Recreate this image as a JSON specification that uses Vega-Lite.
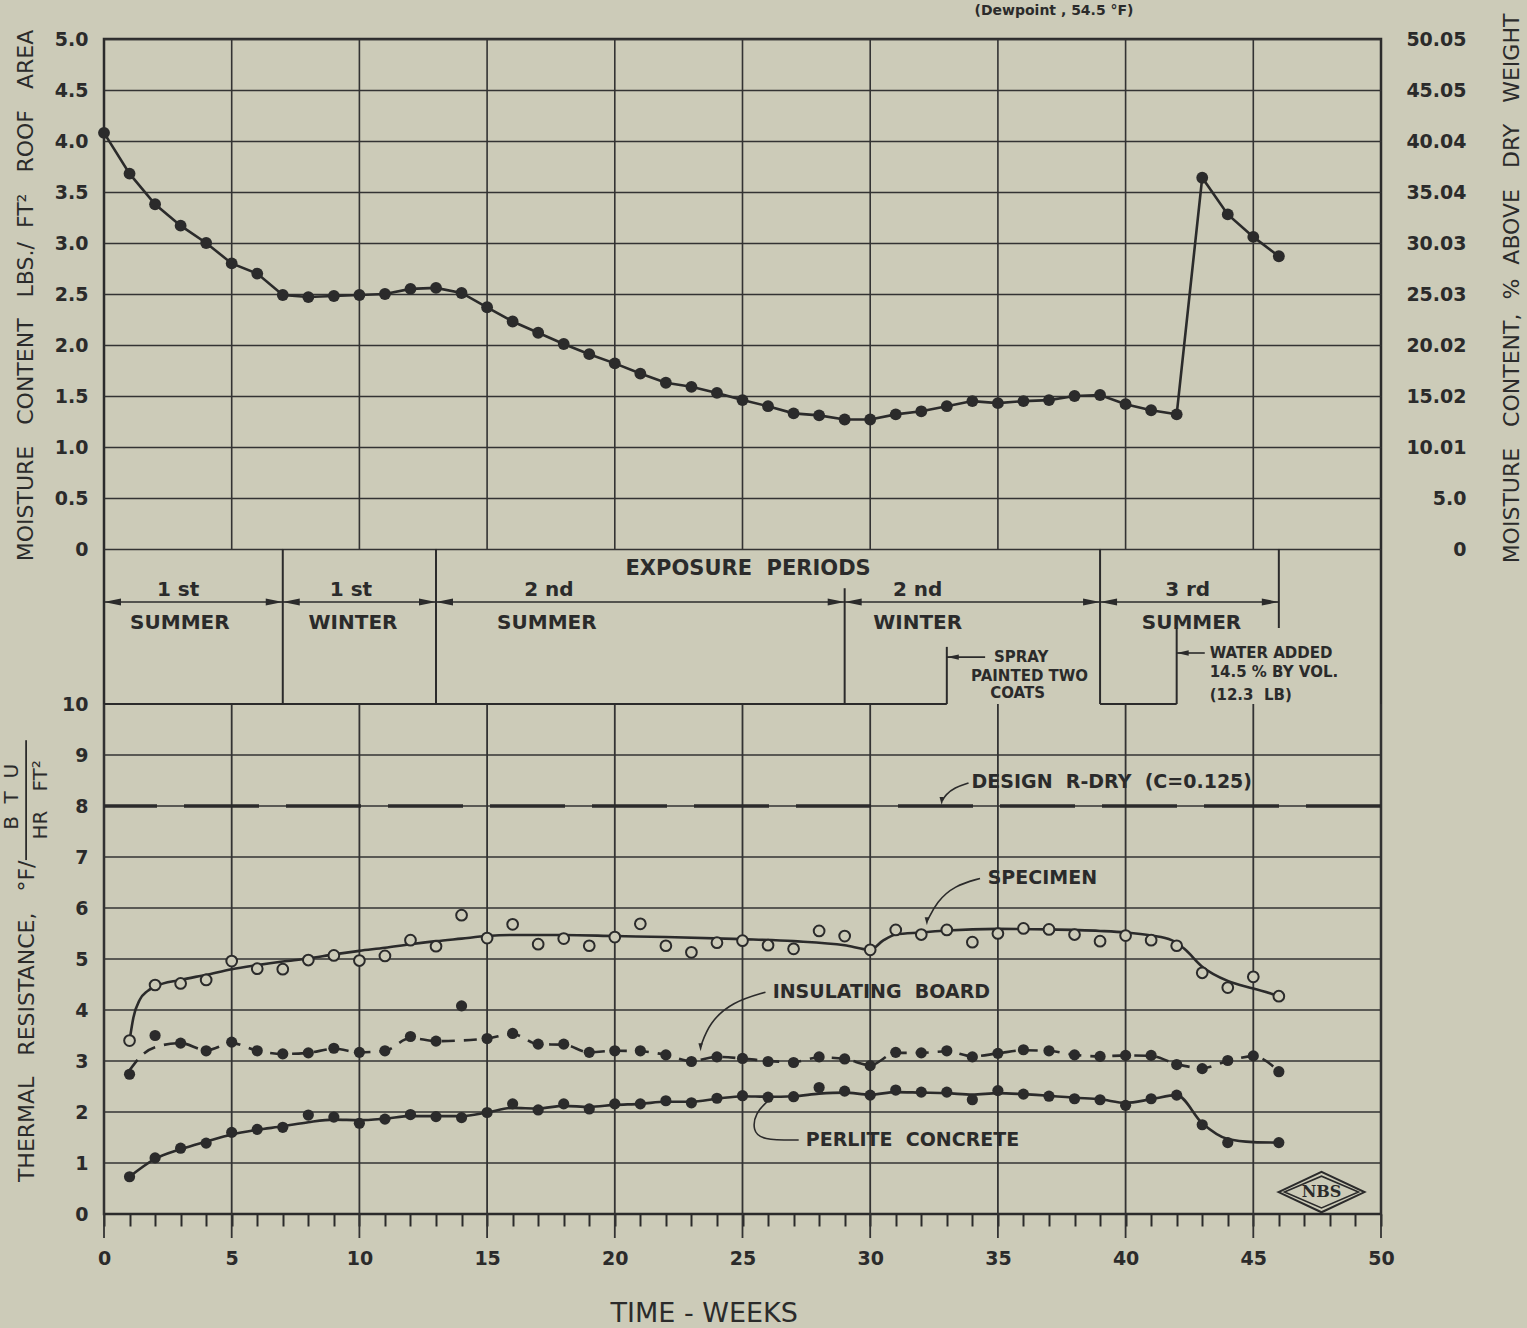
{
  "$schema": "https://vega.github.io/schema/vega-lite/v6.json",
  "width": 1277,
  "height": 1175,
  "autosize": {"type": "none"},
  "padding": {"left": 104, "top": 39, "right": 146, "bottom": 114},
  "background": "#cccbb8",
  "config": {
    "view": {"stroke": "#2b2b2b", "strokeWidth": 2.5},
    "axis": {
      "labelFont": "DejaVu Sans", "labelFontWeight": "bold", "labelFontSize": 19, "labelColor": "#2b2b2b",
      "titleFont": "DejaVu Sans", "titleFontWeight": "normal", "titleColor": "#2b2b2b",
      "gridColor": "#333333", "gridWidth": 1.6, "gridOpacity": 1, "tickColor": "#2b2b2b",
      "domain": false, "labelOverlap": false, "labelFlush": false
    },
    "text": {"font": "DejaVu Sans", "color": "#2b2b2b"}
  },
  "datasets": {
    "moisture": [
      {"week": 0, "lbs": 4.08}, {"week": 1, "lbs": 3.68}, {"week": 2, "lbs": 3.38}, {"week": 3, "lbs": 3.17},
      {"week": 4, "lbs": 3.0}, {"week": 5, "lbs": 2.8}, {"week": 6, "lbs": 2.7}, {"week": 7, "lbs": 2.49},
      {"week": 8, "lbs": 2.47}, {"week": 9, "lbs": 2.48}, {"week": 10, "lbs": 2.49}, {"week": 11, "lbs": 2.5},
      {"week": 12, "lbs": 2.55}, {"week": 13, "lbs": 2.56}, {"week": 14, "lbs": 2.51}, {"week": 15, "lbs": 2.37},
      {"week": 16, "lbs": 2.23}, {"week": 17, "lbs": 2.12}, {"week": 18, "lbs": 2.01}, {"week": 19, "lbs": 1.91},
      {"week": 20, "lbs": 1.82}, {"week": 21, "lbs": 1.72}, {"week": 22, "lbs": 1.63}, {"week": 23, "lbs": 1.59},
      {"week": 24, "lbs": 1.53}, {"week": 25, "lbs": 1.46}, {"week": 26, "lbs": 1.4}, {"week": 27, "lbs": 1.33},
      {"week": 28, "lbs": 1.31}, {"week": 29, "lbs": 1.27}, {"week": 30, "lbs": 1.27}, {"week": 31, "lbs": 1.32},
      {"week": 32, "lbs": 1.35}, {"week": 33, "lbs": 1.4}, {"week": 34, "lbs": 1.45}, {"week": 35, "lbs": 1.43},
      {"week": 36, "lbs": 1.45}, {"week": 37, "lbs": 1.46}, {"week": 38, "lbs": 1.5}, {"week": 39, "lbs": 1.51},
      {"week": 40, "lbs": 1.42}, {"week": 41, "lbs": 1.36}, {"week": 42, "lbs": 1.32}, {"week": 43, "lbs": 3.64},
      {"week": 44, "lbs": 3.28}, {"week": 45, "lbs": 3.06}, {"week": 46, "lbs": 2.87}
    ],
    "obs": [
      {"week": 1, "specimen": 3.4, "board": 2.74, "perlite": 0.73},
      {"week": 2, "specimen": 4.49, "board": 3.5, "perlite": 1.1},
      {"week": 3, "specimen": 4.52, "board": 3.35, "perlite": 1.29},
      {"week": 4, "specimen": 4.59, "board": 3.2, "perlite": 1.39},
      {"week": 5, "specimen": 4.96, "board": 3.37, "perlite": 1.6},
      {"week": 6, "specimen": 4.81, "board": 3.2, "perlite": 1.66},
      {"week": 7, "specimen": 4.8, "board": 3.14, "perlite": 1.7},
      {"week": 8, "specimen": 4.98, "board": 3.16, "perlite": 1.94},
      {"week": 9, "specimen": 5.07, "board": 3.25, "perlite": 1.9},
      {"week": 10, "specimen": 4.97, "board": 3.17, "perlite": 1.78},
      {"week": 11, "specimen": 5.06, "board": 3.2, "perlite": 1.86},
      {"week": 12, "specimen": 5.37, "board": 3.48, "perlite": 1.95},
      {"week": 13, "specimen": 5.25, "board": 3.39, "perlite": 1.91},
      {"week": 14, "specimen": 5.86, "board": 4.08, "perlite": 1.89},
      {"week": 15, "specimen": 5.41, "board": 3.44, "perlite": 1.99},
      {"week": 16, "specimen": 5.68, "board": 3.54, "perlite": 2.16},
      {"week": 17, "specimen": 5.29, "board": 3.33, "perlite": 2.04},
      {"week": 18, "specimen": 5.4, "board": 3.33, "perlite": 2.16},
      {"week": 19, "specimen": 5.26, "board": 3.17, "perlite": 2.06},
      {"week": 20, "specimen": 5.43, "board": 3.2, "perlite": 2.16},
      {"week": 21, "specimen": 5.69, "board": 3.2, "perlite": 2.16},
      {"week": 22, "specimen": 5.26, "board": 3.12, "perlite": 2.22},
      {"week": 23, "specimen": 5.13, "board": 2.99, "perlite": 2.18},
      {"week": 24, "specimen": 5.32, "board": 3.08, "perlite": 2.27},
      {"week": 25, "specimen": 5.36, "board": 3.05, "perlite": 2.32},
      {"week": 26, "specimen": 5.27, "board": 2.99, "perlite": 2.29},
      {"week": 27, "specimen": 5.2, "board": 2.97, "perlite": 2.3},
      {"week": 28, "specimen": 5.55, "board": 3.08, "perlite": 2.48},
      {"week": 29, "specimen": 5.45, "board": 3.04, "perlite": 2.41},
      {"week": 30, "specimen": 5.18, "board": 2.91, "perlite": 2.33},
      {"week": 31, "specimen": 5.57, "board": 3.17, "perlite": 2.43},
      {"week": 32, "specimen": 5.48, "board": 3.16, "perlite": 2.39},
      {"week": 33, "specimen": 5.57, "board": 3.2, "perlite": 2.39},
      {"week": 34, "specimen": 5.33, "board": 3.08, "perlite": 2.24},
      {"week": 35, "specimen": 5.5, "board": 3.15, "perlite": 2.42},
      {"week": 36, "specimen": 5.6, "board": 3.22, "perlite": 2.35},
      {"week": 37, "specimen": 5.58, "board": 3.2, "perlite": 2.31},
      {"week": 38, "specimen": 5.48, "board": 3.12, "perlite": 2.26},
      {"week": 39, "specimen": 5.35, "board": 3.09, "perlite": 2.24},
      {"week": 40, "specimen": 5.46, "board": 3.11, "perlite": 2.13},
      {"week": 41, "specimen": 5.37, "board": 3.11, "perlite": 2.26},
      {"week": 42, "specimen": 5.26, "board": 2.93, "perlite": 2.33},
      {"week": 43, "specimen": 4.73, "board": 2.85, "perlite": 1.75},
      {"week": 44, "specimen": 4.44, "board": 3.01, "perlite": 1.4},
      {"week": 45, "specimen": 4.65, "board": 3.1, "perlite": null},
      {"week": 46, "specimen": 4.27, "board": 2.79, "perlite": 1.4}
    ],
    "fits": [
      {"s": "specimen", "week": 1, "r": 3.4}, {"s": "specimen", "week": 1.15, "r": 3.85}, {"s": "specimen", "week": 1.4, "r": 4.2},
      {"s": "specimen", "week": 1.7, "r": 4.37}, {"s": "specimen", "week": 2, "r": 4.46}, {"s": "specimen", "week": 3, "r": 4.59},
      {"s": "specimen", "week": 4, "r": 4.69}, {"s": "specimen", "week": 5, "r": 4.8}, {"s": "specimen", "week": 6, "r": 4.88},
      {"s": "specimen", "week": 7, "r": 4.95}, {"s": "specimen", "week": 8, "r": 5.01}, {"s": "specimen", "week": 9, "r": 5.09},
      {"s": "specimen", "week": 10, "r": 5.16}, {"s": "specimen", "week": 11, "r": 5.22}, {"s": "specimen", "week": 12, "r": 5.29},
      {"s": "specimen", "week": 13, "r": 5.35}, {"s": "specimen", "week": 14, "r": 5.4}, {"s": "specimen", "week": 15, "r": 5.45},
      {"s": "specimen", "week": 16, "r": 5.47}, {"s": "specimen", "week": 18, "r": 5.47}, {"s": "specimen", "week": 20, "r": 5.45},
      {"s": "specimen", "week": 22, "r": 5.43}, {"s": "specimen", "week": 25, "r": 5.39}, {"s": "specimen", "week": 27, "r": 5.35},
      {"s": "specimen", "week": 29, "r": 5.27}, {"s": "specimen", "week": 30, "r": 5.18}, {"s": "specimen", "week": 30.5, "r": 5.36},
      {"s": "specimen", "week": 31, "r": 5.48}, {"s": "specimen", "week": 32, "r": 5.52}, {"s": "specimen", "week": 33, "r": 5.56},
      {"s": "specimen", "week": 35, "r": 5.59}, {"s": "specimen", "week": 37, "r": 5.58}, {"s": "specimen", "week": 39, "r": 5.55},
      {"s": "specimen", "week": 40, "r": 5.52}, {"s": "specimen", "week": 41, "r": 5.46}, {"s": "specimen", "week": 41.8, "r": 5.37},
      {"s": "specimen", "week": 42.3, "r": 5.2}, {"s": "specimen", "week": 43, "r": 4.85}, {"s": "specimen", "week": 44, "r": 4.57},
      {"s": "specimen", "week": 45, "r": 4.42}, {"s": "specimen", "week": 46, "r": 4.28},
      {"s": "board", "week": 1, "r": 2.82}, {"s": "board", "week": 1.5, "r": 3.12}, {"s": "board", "week": 2, "r": 3.27},
      {"s": "board", "week": 3, "r": 3.35}, {"s": "board", "week": 4, "r": 3.21}, {"s": "board", "week": 5, "r": 3.35},
      {"s": "board", "week": 6, "r": 3.2}, {"s": "board", "week": 7, "r": 3.14}, {"s": "board", "week": 8, "r": 3.16},
      {"s": "board", "week": 9, "r": 3.24}, {"s": "board", "week": 10, "r": 3.17}, {"s": "board", "week": 11, "r": 3.2},
      {"s": "board", "week": 12, "r": 3.45}, {"s": "board", "week": 13, "r": 3.39}, {"s": "board", "week": 15, "r": 3.44},
      {"s": "board", "week": 16, "r": 3.53}, {"s": "board", "week": 17, "r": 3.33}, {"s": "board", "week": 18, "r": 3.32},
      {"s": "board", "week": 19, "r": 3.17}, {"s": "board", "week": 20, "r": 3.2}, {"s": "board", "week": 21, "r": 3.19},
      {"s": "board", "week": 22, "r": 3.12}, {"s": "board", "week": 23, "r": 3.0}, {"s": "board", "week": 24, "r": 3.08},
      {"s": "board", "week": 25, "r": 3.05}, {"s": "board", "week": 26, "r": 3.0}, {"s": "board", "week": 27, "r": 2.98},
      {"s": "board", "week": 28, "r": 3.07}, {"s": "board", "week": 29, "r": 3.04}, {"s": "board", "week": 30, "r": 2.92},
      {"s": "board", "week": 31, "r": 3.16}, {"s": "board", "week": 32, "r": 3.16}, {"s": "board", "week": 33, "r": 3.19},
      {"s": "board", "week": 34, "r": 3.09}, {"s": "board", "week": 35, "r": 3.15}, {"s": "board", "week": 36, "r": 3.21},
      {"s": "board", "week": 37, "r": 3.2}, {"s": "board", "week": 38, "r": 3.12}, {"s": "board", "week": 39, "r": 3.09},
      {"s": "board", "week": 40, "r": 3.11}, {"s": "board", "week": 41, "r": 3.1}, {"s": "board", "week": 42, "r": 2.94},
      {"s": "board", "week": 43, "r": 2.86}, {"s": "board", "week": 44, "r": 3.0}, {"s": "board", "week": 45, "r": 3.09},
      {"s": "board", "week": 46, "r": 2.8},
      {"s": "perlite", "week": 1, "r": 0.73}, {"s": "perlite", "week": 2, "r": 1.08}, {"s": "perlite", "week": 3, "r": 1.27},
      {"s": "perlite", "week": 4, "r": 1.42}, {"s": "perlite", "week": 5, "r": 1.56}, {"s": "perlite", "week": 6, "r": 1.65},
      {"s": "perlite", "week": 7, "r": 1.72}, {"s": "perlite", "week": 8, "r": 1.8}, {"s": "perlite", "week": 9, "r": 1.85},
      {"s": "perlite", "week": 10, "r": 1.84}, {"s": "perlite", "week": 11, "r": 1.87}, {"s": "perlite", "week": 12, "r": 1.92},
      {"s": "perlite", "week": 13, "r": 1.92}, {"s": "perlite", "week": 14, "r": 1.92}, {"s": "perlite", "week": 15, "r": 1.99},
      {"s": "perlite", "week": 16, "r": 2.08}, {"s": "perlite", "week": 17, "r": 2.07}, {"s": "perlite", "week": 18, "r": 2.12},
      {"s": "perlite", "week": 19, "r": 2.1}, {"s": "perlite", "week": 20, "r": 2.14}, {"s": "perlite", "week": 21, "r": 2.16},
      {"s": "perlite", "week": 22, "r": 2.2}, {"s": "perlite", "week": 23, "r": 2.2}, {"s": "perlite", "week": 24, "r": 2.26},
      {"s": "perlite", "week": 25, "r": 2.31}, {"s": "perlite", "week": 26, "r": 2.3}, {"s": "perlite", "week": 27, "r": 2.31},
      {"s": "perlite", "week": 28, "r": 2.36}, {"s": "perlite", "week": 29, "r": 2.38}, {"s": "perlite", "week": 30, "r": 2.34},
      {"s": "perlite", "week": 31, "r": 2.39}, {"s": "perlite", "week": 32, "r": 2.38}, {"s": "perlite", "week": 33, "r": 2.37},
      {"s": "perlite", "week": 34, "r": 2.34}, {"s": "perlite", "week": 35, "r": 2.37}, {"s": "perlite", "week": 36, "r": 2.35},
      {"s": "perlite", "week": 37, "r": 2.32}, {"s": "perlite", "week": 38, "r": 2.28}, {"s": "perlite", "week": 39, "r": 2.25},
      {"s": "perlite", "week": 40, "r": 2.18}, {"s": "perlite", "week": 41, "r": 2.25}, {"s": "perlite", "week": 42, "r": 2.33},
      {"s": "perlite", "week": 43, "r": 1.78}, {"s": "perlite", "week": 44, "r": 1.47}, {"s": "perlite", "week": 45, "r": 1.41},
      {"s": "perlite", "week": 46, "r": 1.4}
    ],
    "leaders": [
      {"id": "design", "o": 1, "week": 33.85, "lvl": 8.45}, {"id": "design", "o": 2, "week": 33.3, "lvl": 8.36},
      {"id": "design", "o": 3, "week": 32.95, "lvl": 8.22}, {"id": "design", "o": 4, "week": 32.82, "lvl": 8.1},
      {"id": "specimen", "o": 1, "week": 34.3, "lvl": 6.58}, {"id": "specimen", "o": 2, "week": 33.3, "lvl": 6.44},
      {"id": "specimen", "o": 3, "week": 32.6, "lvl": 6.12}, {"id": "specimen", "o": 4, "week": 32.25, "lvl": 5.76},
      {"id": "board", "o": 1, "week": 25.9, "lvl": 4.35}, {"id": "board", "o": 2, "week": 24.6, "lvl": 4.16},
      {"id": "board", "o": 3, "week": 23.7, "lvl": 3.75}, {"id": "board", "o": 4, "week": 23.36, "lvl": 3.28},
      {"id": "perlite", "o": 1, "week": 27.2, "lvl": 1.45}, {"id": "perlite", "o": 2, "week": 25.75, "lvl": 1.45},
      {"id": "perlite", "o": 3, "week": 25.4, "lvl": 1.64}, {"id": "perlite", "o": 4, "week": 25.5, "lvl": 1.98},
      {"id": "perlite", "o": 5, "week": 26.0, "lvl": 2.22}
    ]
  },
  "layer": [
    {
      "layer": [
        {
          "data": {"values": [{"week": 5}, {"week": 10}, {"week": 15}, {"week": 20}, {"week": 25}, {"week": 30}, {"week": 35}, {"week": 40}, {"week": 45}]},
          "mark": {"type": "rule", "color": "#333333", "strokeWidth": 1.6},
          "encoding": {
            "x": {"field": "week", "type": "quantitative", "scale": {"domain": [0, 50], "nice": false, "zero": false}, "axis": null},
            "y": {"datum": 0, "type": "quantitative", "scale": {"domain": [0, 5], "range": [510, 0], "nice": false, "zero": false}, "axis": null},
            "y2": {"datum": 5}
          }
        },
        {
          "data": {"name": "moisture"},
          "mark": {"type": "line", "color": "#2b2b2b", "strokeWidth": 2.6},
          "encoding": {
            "x": {"field": "week", "type": "quantitative", "scale": {"domain": [0, 50], "nice": false, "zero": false}, "axis": null},
            "y": {"field": "lbs", "type": "quantitative", "scale": {"domain": [0, 5], "range": [510, 0], "nice": false, "zero": false},
              "axis": {"orient": "left", "values": [0, 0.5, 1, 1.5, 2, 2.5, 3, 3.5, 4, 4.5, 5],
                "labelExpr": "datum.value == 0 ? '0' : format(datum.value, '.1f')",
                "ticks": false, "labelPadding": 16, "grid": true,
                "title": "MOISTURE\u00a0\u00a0\u00a0CONTENT\u00a0\u00a0\u00a0LBS./\u00a0\u00a0FT\u00b2\u00a0\u00a0\u00a0ROOF\u00a0\u00a0\u00a0AREA",
                "titleFontSize": 22, "titleAngle": 270, "titleX": -79, "titleY": 256, "titleAlign": "center", "titleBaseline": "middle"}}
          }
        },
        {
          "data": {"name": "moisture"},
          "mark": {"type": "point", "shape": "circle", "filled": true, "color": "#2b2b2b", "size": 140, "opacity": 1},
          "encoding": {
            "x": {"field": "week", "type": "quantitative", "scale": {"domain": [0, 50], "nice": false, "zero": false}, "axis": null},
            "y": {"field": "lbs", "type": "quantitative", "scale": {"domain": [0, 5], "range": [510, 0], "nice": false, "zero": false},
              "axis": {"orient": "right", "values": [0, 0.5, 1, 1.5, 2, 2.5, 3, 3.5, 4, 4.5, 5],
                "labelExpr": "['0','5.0','10.01','15.02','20.02','25.03','30.03','35.04','40.04','45.05','50.05'][round(datum.value*2)]",
                "ticks": false, "labelPadding": 85, "labelAlign": "right", "grid": false,
                "title": "MOISTURE\u00a0\u00a0\u00a0CONTENT,\u00a0\u00a0%\u00a0\u00a0ABOVE\u00a0\u00a0\u00a0DRY\u00a0\u00a0\u00a0WEIGHT",
                "titleFontSize": 22, "titleAngle": 270, "titleX": 130, "titleY": 249, "titleAlign": "center", "titleBaseline": "middle"}}
          }
        },
        {
          "data": {"values": [{}]},
          "mark": {"type": "text", "text": "(Dewpoint , 54.5 \u00b0F)", "align": "right", "baseline": "alphabetic", "fontSize": 14, "fontWeight": "bold"},
          "encoding": {
            "x": {"datum": 40.31, "type": "quantitative", "scale": {"domain": [0, 50], "nice": false, "zero": false}, "axis": null},
            "y": {"datum": 5.235, "type": "quantitative", "scale": {"domain": [0, 5], "range": [510, 0], "nice": false, "zero": false}, "axis": null}
          }
        }
      ],
      "resolve": {"axis": {"y": "independent"}}
    },
    {
      "layer": [
        {
          "data": {"values": [{"r": 1}, {"r": 2}, {"r": 3}, {"r": 4}, {"r": 5}, {"r": 6}, {"r": 7}, {"r": 8}, {"r": 9}]},
          "mark": {"type": "rule", "color": "#333333", "strokeWidth": 1.6},
          "encoding": {
            "y": {"field": "r", "type": "quantitative", "scale": {"domain": [0, 10], "range": [1175, 665], "nice": false, "zero": false}, "axis": null}
          }
        },
        {
          "data": {"values": [{"week": 0}, {"week": 5}, {"week": 10}, {"week": 15}, {"week": 20}, {"week": 25}, {"week": 30}, {"week": 35}, {"week": 40}, {"week": 45}, {"week": 50}]},
          "mark": {"type": "rule", "color": "#333333", "strokeWidth": 1.8},
          "encoding": {
            "x": {"field": "week", "type": "quantitative", "scale": {"domain": [0, 50], "nice": false, "zero": false}, "axis": null},
            "y": {"datum": -0.47, "type": "quantitative", "scale": {"domain": [0, 10], "range": [1175, 665], "nice": false, "zero": false}, "axis": null},
            "y2": {"datum": 10}
          }
        },
        {
          "data": {"values": [{}]},
          "mark": {"type": "rule", "color": "#2b2b2b", "strokeWidth": 2},
          "encoding": {
            "x": {"datum": 0, "type": "quantitative", "scale": {"domain": [0, 50], "nice": false, "zero": false}, "axis": null},
            "x2": {"datum": 33},
            "y": {"datum": 10, "type": "quantitative", "scale": {"domain": [0, 10], "range": [1175, 665], "nice": false, "zero": false}, "axis": null}
          }
        },
        {
          "data": {"values": [{}]},
          "mark": {"type": "rule", "color": "#2b2b2b", "strokeWidth": 2},
          "encoding": {
            "x": {"datum": 39, "type": "quantitative", "scale": {"domain": [0, 50], "nice": false, "zero": false}, "axis": null},
            "x2": {"datum": 42},
            "y": {"datum": 10, "type": "quantitative", "scale": {"domain": [0, 10], "range": [1175, 665], "nice": false, "zero": false}, "axis": null}
          }
        },
        {
          "data": {"values": [{"week": 7}, {"week": 13}, {"week": 39}]},
          "mark": {"type": "rule", "color": "#2b2b2b", "strokeWidth": 2},
          "encoding": {
            "x": {"field": "week", "type": "quantitative", "scale": {"domain": [0, 50], "nice": false, "zero": false}, "axis": null},
            "y": {"datum": 10, "type": "quantitative", "scale": {"domain": [0, 10], "range": [1175, 665], "nice": false, "zero": false}, "axis": null},
            "y2": {"datum": 13.04}
          }
        },
        {
          "data": {"values": [{"week": 29}]},
          "mark": {"type": "rule", "color": "#2b2b2b", "strokeWidth": 2},
          "encoding": {
            "x": {"field": "week", "type": "quantitative", "scale": {"domain": [0, 50], "nice": false, "zero": false}, "axis": null},
            "y": {"datum": 10, "type": "quantitative", "scale": {"domain": [0, 10], "range": [1175, 665], "nice": false, "zero": false}, "axis": null},
            "y2": {"datum": 12.27}
          }
        },
        {
          "data": {"values": [{"week": 46}]},
          "mark": {"type": "rule", "color": "#2b2b2b", "strokeWidth": 2},
          "encoding": {
            "x": {"field": "week", "type": "quantitative", "scale": {"domain": [0, 50], "nice": false, "zero": false}, "axis": null},
            "y": {"datum": 11.49, "type": "quantitative", "scale": {"domain": [0, 10], "range": [1175, 665], "nice": false, "zero": false}, "axis": null},
            "y2": {"datum": 13.04}
          }
        },
        {
          "data": {"values": [{"week": 33}]},
          "mark": {"type": "rule", "color": "#2b2b2b", "strokeWidth": 2},
          "encoding": {
            "x": {"field": "week", "type": "quantitative", "scale": {"domain": [0, 50], "nice": false, "zero": false}, "axis": null},
            "y": {"datum": 10, "type": "quantitative", "scale": {"domain": [0, 10], "range": [1175, 665], "nice": false, "zero": false}, "axis": null},
            "y2": {"datum": 11.12}
          }
        },
        {
          "data": {"values": [{"week": 42}]},
          "mark": {"type": "rule", "color": "#2b2b2b", "strokeWidth": 2},
          "encoding": {
            "x": {"field": "week", "type": "quantitative", "scale": {"domain": [0, 50], "nice": false, "zero": false}, "axis": null},
            "y": {"datum": 10, "type": "quantitative", "scale": {"domain": [0, 10], "range": [1175, 665], "nice": false, "zero": false}, "axis": null},
            "y2": {"datum": 11.49}
          }
        },
        {
          "data": {"values": [{}]},
          "mark": {"type": "rule", "color": "#2b2b2b", "strokeWidth": 1.6},
          "encoding": {
            "x": {"datum": 0, "type": "quantitative", "scale": {"domain": [0, 50], "nice": false, "zero": false}, "axis": null},
            "x2": {"datum": 46},
            "y": {"datum": 12, "type": "quantitative", "scale": {"domain": [0, 10], "range": [1175, 665], "nice": false, "zero": false}, "axis": null}
          }
        },
        {
          "data": {"values": [{"week": 0}, {"week": 7}, {"week": 13}, {"week": 29}, {"week": 39}]},
          "mark": {"type": "point", "shape": "M0,0L2,-0.42L2,0.42Z", "filled": true, "color": "#2b2b2b", "size": 289, "opacity": 1},
          "encoding": {
            "x": {"field": "week", "type": "quantitative", "scale": {"domain": [0, 50], "nice": false, "zero": false}, "axis": null},
            "y": {"datum": 12, "type": "quantitative", "scale": {"domain": [0, 10], "range": [1175, 665], "nice": false, "zero": false}, "axis": null}
          }
        },
        {
          "data": {"values": [{"week": 7}, {"week": 13}, {"week": 29}, {"week": 39}, {"week": 46}]},
          "mark": {"type": "point", "shape": "M0,0L-2,-0.42L-2,0.42Z", "filled": true, "color": "#2b2b2b", "size": 289, "opacity": 1},
          "encoding": {
            "x": {"field": "week", "type": "quantitative", "scale": {"domain": [0, 50], "nice": false, "zero": false}, "axis": null},
            "y": {"datum": 12, "type": "quantitative", "scale": {"domain": [0, 10], "range": [1175, 665], "nice": false, "zero": false}, "axis": null}
          }
        },
        {
          "data": {"values": [{"week": 33, "to": 34.5, "lvl": 10.92}, {"week": 42, "to": 43.1, "lvl": 11.0}]},
          "mark": {"type": "rule", "color": "#2b2b2b", "strokeWidth": 1.6},
          "encoding": {
            "x": {"field": "week", "type": "quantitative", "scale": {"domain": [0, 50], "nice": false, "zero": false}, "axis": null},
            "x2": {"field": "to"},
            "y": {"field": "lvl", "type": "quantitative", "scale": {"domain": [0, 10], "range": [1175, 665], "nice": false, "zero": false}, "axis": null}
          }
        },
        {
          "data": {"values": [{"week": 33, "lvl": 10.92}, {"week": 42, "lvl": 11.0}]},
          "mark": {"type": "point", "shape": "M0,0L2,-0.45L2,0.45Z", "filled": true, "color": "#2b2b2b", "size": 144, "opacity": 1},
          "encoding": {
            "x": {"field": "week", "type": "quantitative", "scale": {"domain": [0, 50], "nice": false, "zero": false}, "axis": null},
            "y": {"field": "lvl", "type": "quantitative", "scale": {"domain": [0, 10], "range": [1175, 665], "nice": false, "zero": false}, "axis": null}
          }
        },
        {
          "data": {"values": [
            {"week": 2.9, "lvl": 12.23, "t": "1 st"}, {"week": 2.97, "lvl": 11.59, "t": "SUMMER"},
            {"week": 9.67, "lvl": 12.23, "t": "1 st"}, {"week": 9.75, "lvl": 11.59, "t": "WINTER"},
            {"week": 17.42, "lvl": 12.23, "t": "2 nd"}, {"week": 17.34, "lvl": 11.59, "t": "SUMMER"},
            {"week": 31.86, "lvl": 12.23, "t": "2 nd"}, {"week": 31.86, "lvl": 11.59, "t": "WINTER"},
            {"week": 42.43, "lvl": 12.23, "t": "3 rd"}, {"week": 42.58, "lvl": 11.59, "t": "SUMMER"}
          ]},
          "mark": {"type": "text", "align": "center", "baseline": "middle", "fontSize": 20, "fontWeight": "bold"},
          "encoding": {
            "x": {"field": "week", "type": "quantitative", "scale": {"domain": [0, 50], "nice": false, "zero": false}, "axis": null},
            "y": {"field": "lvl", "type": "quantitative", "scale": {"domain": [0, 10], "range": [1175, 665], "nice": false, "zero": false}, "axis": null},
            "text": {"field": "t"}
          }
        },
        {
          "data": {"values": [{"week": 25.22, "lvl": 12.65, "t": "EXPOSURE\u00a0\u00a0PERIODS"}]},
          "mark": {"type": "text", "align": "center", "baseline": "middle", "fontSize": 21, "fontWeight": "bold"},
          "encoding": {
            "x": {"field": "week", "type": "quantitative", "scale": {"domain": [0, 50], "nice": false, "zero": false}, "axis": null},
            "y": {"field": "lvl", "type": "quantitative", "scale": {"domain": [0, 10], "range": [1175, 665], "nice": false, "zero": false}, "axis": null},
            "text": {"field": "t"}
          }
        },
        {
          "data": {"values": [
            {"week": 35.91, "lvl": 10.92, "t": "SPRAY"}, {"week": 36.24, "lvl": 10.55, "t": "PAINTED TWO"}, {"week": 35.77, "lvl": 10.22, "t": "COATS"}
          ]},
          "mark": {"type": "text", "align": "center", "baseline": "middle", "fontSize": 15, "fontWeight": "bold"},
          "encoding": {
            "x": {"field": "week", "type": "quantitative", "scale": {"domain": [0, 50], "nice": false, "zero": false}, "axis": null},
            "y": {"field": "lvl", "type": "quantitative", "scale": {"domain": [0, 10], "range": [1175, 665], "nice": false, "zero": false}, "axis": null},
            "text": {"field": "t"}
          }
        },
        {
          "data": {"values": [
            {"week": 43.29, "lvl": 11.0, "t": "WATER ADDED"}, {"week": 43.29, "lvl": 10.63, "t": "14.5 % BY VOL."}, {"week": 43.29, "lvl": 10.18, "t": "(12.3\u00a0\u00a0LB)"}
          ]},
          "mark": {"type": "text", "align": "left", "baseline": "middle", "fontSize": 15, "fontWeight": "bold"},
          "encoding": {
            "x": {"field": "week", "type": "quantitative", "scale": {"domain": [0, 50], "nice": false, "zero": false}, "axis": null},
            "y": {"field": "lvl", "type": "quantitative", "scale": {"domain": [0, 10], "range": [1175, 665], "nice": false, "zero": false}, "axis": null},
            "text": {"field": "t"}
          }
        },
        {
          "data": {"values": [{}]},
          "mark": {"type": "rule", "color": "#2b2b2b", "strokeWidth": 3.5, "strokeDash": [75, 27]},
          "encoding": {
            "y": {"datum": 8, "type": "quantitative", "scale": {"domain": [0, 10], "range": [1175, 665], "nice": false, "zero": false}, "axis": null}
          }
        },
        {
          "data": {"name": "fits"},
          "transform": [{"filter": "datum.s == 'specimen'"}],
          "mark": {"type": "line", "interpolate": "monotone", "color": "#2b2b2b", "strokeWidth": 2.6},
          "encoding": {
            "x": {"field": "week", "type": "quantitative", "scale": {"domain": [0, 50], "nice": false, "zero": false}, "axis": null},
            "y": {"field": "r", "type": "quantitative", "scale": {"domain": [0, 10], "range": [1175, 665], "nice": false, "zero": false}, "axis": null}
          }
        },
        {
          "data": {"name": "fits"},
          "transform": [{"filter": "datum.s == 'board'"}],
          "mark": {"type": "line", "interpolate": "monotone", "color": "#2b2b2b", "strokeWidth": 2.6, "strokeDash": [13, 9]},
          "encoding": {
            "x": {"field": "week", "type": "quantitative", "scale": {"domain": [0, 50], "nice": false, "zero": false}, "axis": null},
            "y": {"field": "r", "type": "quantitative", "scale": {"domain": [0, 10], "range": [1175, 665], "nice": false, "zero": false}, "axis": null}
          }
        },
        {
          "data": {"name": "fits"},
          "transform": [{"filter": "datum.s == 'perlite'"}],
          "mark": {"type": "line", "interpolate": "monotone", "color": "#2b2b2b", "strokeWidth": 2.6},
          "encoding": {
            "x": {"field": "week", "type": "quantitative", "scale": {"domain": [0, 50], "nice": false, "zero": false}, "axis": null},
            "y": {"field": "r", "type": "quantitative", "scale": {"domain": [0, 10], "range": [1175, 665], "nice": false, "zero": false}, "axis": null}
          }
        },
        {
          "data": {"name": "obs"},
          "mark": {"type": "point", "shape": "circle", "filled": true, "color": "#2b2b2b", "size": 125, "opacity": 1},
          "encoding": {
            "x": {"field": "week", "type": "quantitative", "scale": {"domain": [0, 50], "nice": false, "zero": false}, "axis": null},
            "y": {"field": "perlite", "type": "quantitative", "scale": {"domain": [0, 10], "range": [1175, 665], "nice": false, "zero": false}, "axis": null}
          }
        },
        {
          "data": {"name": "obs"},
          "mark": {"type": "point", "shape": "circle", "filled": true, "color": "#2b2b2b", "size": 125, "opacity": 1},
          "encoding": {
            "x": {"field": "week", "type": "quantitative", "scale": {"domain": [0, 50], "nice": false, "zero": false}, "axis": null},
            "y": {"field": "board", "type": "quantitative", "scale": {"domain": [0, 10], "range": [1175, 665], "nice": false, "zero": false}, "axis": null}
          }
        },
        {
          "data": {"name": "obs"},
          "mark": {"type": "point", "shape": "circle", "fill": "#cccbb8", "stroke": "#2b2b2b", "strokeWidth": 2, "size": 115, "opacity": 1, "fillOpacity": 1},
          "encoding": {
            "x": {"field": "week", "type": "quantitative", "scale": {"domain": [0, 50], "nice": false, "zero": false},
              "axis": {"orient": "bottom",
                "values": [0,1,2,3,4,5,6,7,8,9,10,11,12,13,14,15,16,17,18,19,20,21,22,23,24,25,26,27,28,29,30,31,32,33,34,35,36,37,38,39,40,41,42,43,44,45,46,47,48,49,50],
                "format": "d", "labelExpr": "datum.value % 5 == 0 ? datum.label : ''",
                "ticks": true, "tickSize": 12, "tickWidth": 2, "labelPadding": 32, "labelBaseline": "middle", "grid": false,
                "title": "TIME - WEEKS", "titleFontSize": 27, "titleAlign": "left", "titleX": 506, "titleY": 99, "titleBaseline": "middle"}},
            "y": {"field": "specimen", "type": "quantitative", "scale": {"domain": [0, 10], "range": [1175, 665], "nice": false, "zero": false},
              "axis": {"orient": "left", "values": [0, 1, 2, 3, 4, 5, 6, 7, 8, 9, 10], "format": "d",
                "ticks": false, "labelPadding": 16, "grid": false,
                "title": "THERMAL\u00a0\u00a0\u00a0RESISTANCE,\u00a0\u00a0\u00a0\u00b0F/",
                "titleFontSize": 22, "titleAngle": 270, "titleX": -78, "titleY": 821, "titleAlign": "right", "titleBaseline": "middle"}}
          }
        },
        {
          "data": {"name": "leaders"},
          "mark": {"type": "line", "interpolate": "basis", "color": "#2b2b2b", "strokeWidth": 1.6},
          "encoding": {
            "x": {"field": "week", "type": "quantitative", "scale": {"domain": [0, 50], "nice": false, "zero": false}, "axis": null},
            "y": {"field": "lvl", "type": "quantitative", "scale": {"domain": [0, 10], "range": [1175, 665], "nice": false, "zero": false}, "axis": null},
            "detail": {"field": "id"},
            "order": {"field": "o"}
          }
        },
        {
          "data": {"values": [{"week": 32.8, "lvl": 8.02}, {"week": 32.22, "lvl": 5.66}, {"week": 23.36, "lvl": 3.19}]},
          "mark": {"type": "point", "shape": "M0,0L-0.55,-2L0.55,-2Z", "filled": true, "color": "#2b2b2b", "size": 64, "opacity": 1},
          "encoding": {
            "x": {"field": "week", "type": "quantitative", "scale": {"domain": [0, 50], "nice": false, "zero": false}, "axis": null},
            "y": {"field": "lvl", "type": "quantitative", "scale": {"domain": [0, 10], "range": [1175, 665], "nice": false, "zero": false}, "axis": null}
          }
        },
        {
          "data": {"values": [
            {"week": 33.97, "lvl": 8.47, "t": "DESIGN\u00a0\u00a0R-DRY\u00a0\u00a0(C=0.125)"},
            {"week": 34.6, "lvl": 6.59, "t": "SPECIMEN"},
            {"week": 26.18, "lvl": 4.36, "t": "INSULATING\u00a0\u00a0BOARD"},
            {"week": 27.48, "lvl": 1.45, "t": "PERLITE\u00a0\u00a0CONCRETE"}
          ]},
          "mark": {"type": "text", "align": "left", "baseline": "middle", "fontSize": 19, "fontWeight": "bold"},
          "encoding": {
            "x": {"field": "week", "type": "quantitative", "scale": {"domain": [0, 50], "nice": false, "zero": false}, "axis": null},
            "y": {"field": "lvl", "type": "quantitative", "scale": {"domain": [0, 10], "range": [1175, 665], "nice": false, "zero": false}, "axis": null},
            "text": {"field": "t"}
          }
        },
        {
          "data": {"values": [{}]},
          "mark": {"type": "rule", "color": "#2b2b2b", "strokeWidth": 1.8},
          "encoding": {
            "x": {"datum": -3.05, "type": "quantitative", "scale": {"domain": [0, 50], "nice": false, "zero": false}, "axis": null},
            "y": {"datum": 9.29, "type": "quantitative", "scale": {"domain": [0, 10], "range": [1175, 665], "nice": false, "zero": false}, "axis": null},
            "y2": {"datum": 6.94}
          }
        },
        {
          "data": {"values": [{"week": -3.62, "lvl": 8.18, "t": "B\u00a0\u00a0T\u00a0\u00a0U"}, {"week": -2.47, "lvl": 8.12, "t": "HR\u00a0\u00a0\u00a0FT\u00b2"}]},
          "mark": {"type": "text", "align": "center", "baseline": "middle", "angle": 270, "fontSize": 20},
          "encoding": {
            "x": {"field": "week", "type": "quantitative", "scale": {"domain": [0, 50], "nice": false, "zero": false}, "axis": null},
            "y": {"field": "lvl", "type": "quantitative", "scale": {"domain": [0, 10], "range": [1175, 665], "nice": false, "zero": false}, "axis": null},
            "text": {"field": "t"}
          }
        },
        {
          "data": {"values": [{"week": 47.67, "lvl": 0.43}]},
          "mark": {"type": "point", "shape": "M-1,0L0,-0.47L1,0L0,0.47Z", "filled": false, "stroke": "#2b2b2b", "strokeWidth": 2, "size": 7396, "opacity": 1},
          "encoding": {
            "x": {"field": "week", "type": "quantitative", "scale": {"domain": [0, 50], "nice": false, "zero": false}, "axis": null},
            "y": {"field": "lvl", "type": "quantitative", "scale": {"domain": [0, 10], "range": [1175, 665], "nice": false, "zero": false}, "axis": null}
          }
        },
        {
          "data": {"values": [{"week": 47.67, "lvl": 0.43}]},
          "mark": {"type": "point", "shape": "M-1,0L0,-0.43L1,0L0,0.43Z", "filled": false, "stroke": "#2b2b2b", "strokeWidth": 1.6, "size": 5476, "opacity": 1},
          "encoding": {
            "x": {"field": "week", "type": "quantitative", "scale": {"domain": [0, 50], "nice": false, "zero": false}, "axis": null},
            "y": {"field": "lvl", "type": "quantitative", "scale": {"domain": [0, 10], "range": [1175, 665], "nice": false, "zero": false}, "axis": null}
          }
        },
        {
          "data": {"values": [{"week": 47.67, "lvl": 0.43, "t": "NBS"}]},
          "mark": {"type": "text", "align": "center", "baseline": "middle", "font": "DejaVu Serif", "fontSize": 16, "fontWeight": "bold"},
          "encoding": {
            "x": {"field": "week", "type": "quantitative", "scale": {"domain": [0, 50], "nice": false, "zero": false}, "axis": null},
            "y": {"field": "lvl", "type": "quantitative", "scale": {"domain": [0, 10], "range": [1175, 665], "nice": false, "zero": false}, "axis": null},
            "text": {"field": "t"}
          }
        }
      ],
      "resolve": {"axis": {"x": "independent", "y": "independent"}}
    }
  ],
  "resolve": {"scale": {"y": "independent"}}
}
